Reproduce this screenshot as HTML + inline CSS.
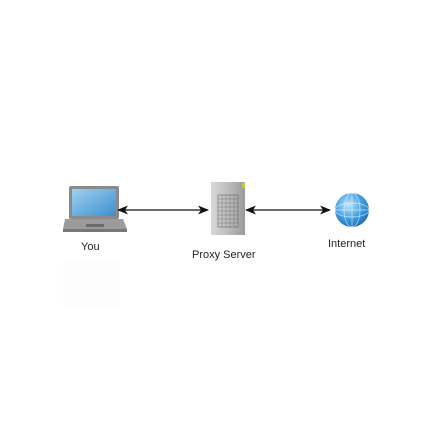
<!DOCTYPE html>
<html><head><style>
body{margin:0;width:432px;height:432px;background:#fff;position:relative;font-family:"Liberation Sans",sans-serif;overflow:hidden}
.t{position:absolute;font-size:11px;color:#222}
</style></head><body>
<div style="position:absolute;left:63px;top:262px;width:57px;height:45px;background:#fdfdfd"></div>
<svg width="432" height="432" style="position:absolute;left:0;top:0">
<defs>
<linearGradient id="scr" x1="0" y1="0" x2="1" y2="1"><stop offset="0" stop-color="#9fd0f0"/><stop offset="1" stop-color="#3c8fd0"/></linearGradient>
<linearGradient id="srv" x1="0" y1="0" x2="1" y2="0"><stop offset="0" stop-color="#d8d8d8"/><stop offset="0.5" stop-color="#bdbdbd"/><stop offset="1" stop-color="#9a9a9a"/></linearGradient>
<radialGradient id="gl" cx="0.4" cy="0.35" r="0.7"><stop offset="0" stop-color="#bfe6ff"/><stop offset="0.6" stop-color="#3d9be0"/><stop offset="1" stop-color="#1c6bb5"/></radialGradient>
<marker id="a" markerWidth="11" markerHeight="9" refX="10" refY="4.5" orient="auto-start-reverse" markerUnits="userSpaceOnUse"><path d="M0,0 L11,4.5 L0,9 L3,4.5z" fill="#111"/></marker>
</defs>
<rect x="69" y="186" width="50" height="33" rx="2" fill="#8a8a8a"/>
<rect x="72" y="189" width="44" height="27" fill="url(#scr)"/>
<path d="M65,219 L123,219 L127,229 L63,229 Z" fill="#9b9b9b"/>
<rect x="63" y="229" width="64" height="3" fill="#777"/>
<rect x="86" y="224" width="18" height="3" fill="#6d6d6d"/>
<line x1="118" y1="210" x2="208" y2="210" stroke="#111" stroke-width="1.2" marker-start="url(#a)" marker-end="url(#a)"/>
<line x1="246" y1="210" x2="330" y2="210" stroke="#111" stroke-width="1.2" marker-start="url(#a)" marker-end="url(#a)"/>
<rect x="211" y="182" width="34" height="53" fill="url(#srv)"/>
<rect x="242" y="183" width="3" height="5" fill="#c8d21c"/>
<rect x="218" y="195" width="20" height="32" fill="none" stroke="#666" stroke-width="0.6"/>
<g stroke="#777" stroke-width="0.5">
<line x1="222" y1="195" x2="222" y2="227"/><line x1="226" y1="195" x2="226" y2="227"/><line x1="230" y1="195" x2="230" y2="227"/><line x1="234" y1="195" x2="234" y2="227"/>
<line x1="218" y1="199" x2="238" y2="199"/><line x1="218" y1="203" x2="238" y2="203"/><line x1="218" y1="207" x2="238" y2="207"/><line x1="218" y1="211" x2="238" y2="211"/><line x1="218" y1="215" x2="238" y2="215"/><line x1="218" y1="219" x2="238" y2="219"/><line x1="218" y1="223" x2="238" y2="223"/>
</g>
<circle cx="352" cy="210" r="17" fill="url(#gl)"/>
<g fill="none" stroke="#e8f6ff" stroke-width="0.7" opacity="0.8">
<ellipse cx="352" cy="210" rx="8" ry="17"/><ellipse cx="352" cy="210" rx="17" ry="7"/><line x1="335" y1="210" x2="369" y2="210"/><line x1="352" y1="193" x2="352" y2="227"/>
</g>
</svg>
<div class="t" style="left:81px;top:241px">You</div>
<div class="t" style="left:192px;top:249px">Proxy Server</div>
<div class="t" style="left:328px;top:238px">Internet</div>
</body></html>
